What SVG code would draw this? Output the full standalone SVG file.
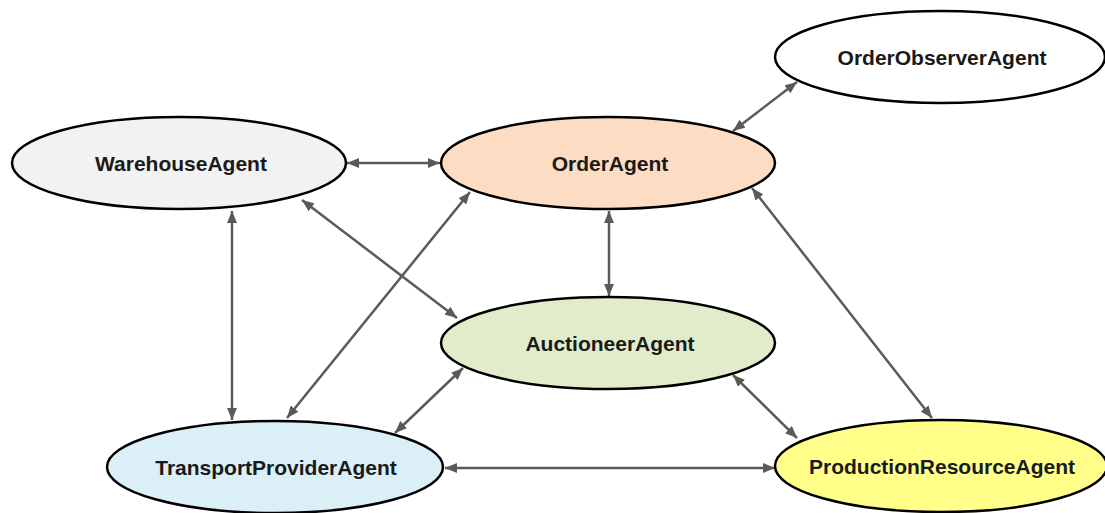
<svg xmlns="http://www.w3.org/2000/svg" width="1105" height="513" viewBox="0 0 1105 513">
<style>
.node ellipse{stroke:#000;stroke-width:2.5}
.node text{font-family:"Liberation Sans",Arial,sans-serif;font-weight:bold;font-size:21px;fill:#1a1a1a;text-anchor:middle}
.conn line{stroke:#5a5a56;stroke-width:2.5;marker-start:url(#ah);marker-end:url(#ah)}
</style>
<defs>
<marker id="ah" viewBox="0 0 12 10" refX="12" refY="5" markerWidth="12" markerHeight="10" markerUnits="userSpaceOnUse" orient="auto-start-reverse">
<path d="M0,0 L12,5 L0,10 Z" fill="#5a5a56"/>
</marker>
</defs>
<rect width="1105" height="513" fill="#fff"/>
<g id="connectors" class="conn">
<line x1="797" y1="82" x2="733" y2="131"/>
<line x1="347" y1="163" x2="440" y2="163"/>
<line x1="232" y1="211" x2="232" y2="420"/>
<line x1="302" y1="200" x2="457" y2="318"/>
<line x1="470" y1="192" x2="287" y2="418"/>
<line x1="463" y1="368" x2="395" y2="433"/>
<line x1="609" y1="211" x2="609" y2="296"/>
<line x1="752" y1="188" x2="932" y2="418"/>
<line x1="733" y1="375" x2="797" y2="438"/>
<line x1="445" y1="468" x2="775" y2="468"/>
</g>
<g id="OrderObserverAgent" class="node">
<ellipse cx="940" cy="57" rx="165" ry="46" fill="#ffffff"/>
<text x="942" y="65">OrderObserverAgent</text>
</g>
<g id="WarehouseAgent" class="node">
<ellipse cx="179" cy="163" rx="167" ry="46" fill="#f2f2f2"/>
<text x="181" y="171">WarehouseAgent</text>
</g>
<g id="OrderAgent" class="node">
<ellipse cx="608" cy="163" rx="167" ry="46" fill="#fcdcc2"/>
<text x="610" y="171">OrderAgent</text>
</g>
<g id="AuctioneerAgent" class="node">
<ellipse cx="608" cy="343" rx="167" ry="46" fill="#e0ecca"/>
<text x="610" y="351">AuctioneerAgent</text>
</g>
<g id="TransportProviderAgent" class="node">
<ellipse cx="275" cy="467" rx="168" ry="46" fill="#daeff6"/>
<text x="276" y="475">TransportProviderAgent</text>
</g>
<g id="ProductionResourceAgent" class="node">
<ellipse cx="941" cy="466" rx="166" ry="46" fill="#ffff8a"/>
<text x="942" y="474">ProductionResourceAgent</text>
</g>
</svg>
